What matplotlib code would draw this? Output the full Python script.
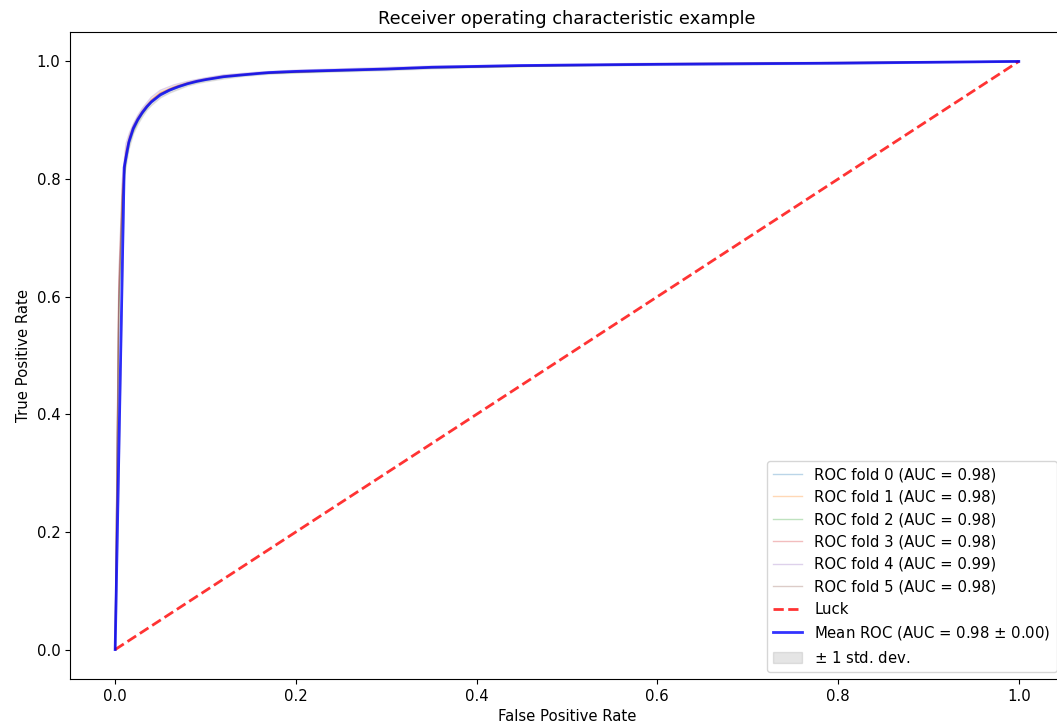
"""
ROC curves for 6 cross-validation folds with the mean curve and luck line.
"""

import matplotlib
matplotlib.use("Agg")
import matplotlib.pyplot as plt
import numpy as np

plt.rcParams["font.size"] = 10.7

# Per-fold ROC curves
fold_fpr = [0.0, 0.004, 0.008, 0.012, 0.016, 0.02, 0.025, 0.03, 0.04, 0.05,
            0.065, 0.08, 0.10, 0.12, 0.16, 0.2, 0.35, 0.6, 1.0]
fold_tpr = [
    [0.0, 0.58, 0.77, 0.84, 0.868, 0.884, 0.900, 0.912, 0.932, 0.945, 0.955,
     0.962, 0.969, 0.974, 0.980, 0.983, 0.990, 0.996, 1.0],
    [0.0, 0.62, 0.79, 0.85, 0.874, 0.889, 0.904, 0.916, 0.935, 0.948, 0.957,
     0.964, 0.970, 0.975, 0.980, 0.982, 0.989, 0.995, 1.0],
    [0.0, 0.57, 0.76, 0.83, 0.862, 0.880, 0.897, 0.910, 0.930, 0.943, 0.953,
     0.961, 0.968, 0.973, 0.979, 0.981, 0.989, 0.995, 1.0],
    [0.0, 0.60, 0.78, 0.845, 0.870, 0.886, 0.902, 0.914, 0.934, 0.946, 0.956,
     0.963, 0.969, 0.974, 0.980, 0.982, 0.990, 0.996, 1.0],
    [0.0, 0.63, 0.80, 0.86, 0.879, 0.893, 0.908, 0.920, 0.939, 0.951, 0.960,
     0.966, 0.972, 0.977, 0.982, 0.985, 0.992, 0.997, 1.0],
    [0.0, 0.59, 0.77, 0.84, 0.866, 0.883, 0.899, 0.911, 0.931, 0.945, 0.955,
     0.962, 0.969, 0.974, 0.980, 0.982, 0.990, 0.996, 1.0],
]
fold_auc = [0.98, 0.98, 0.98, 0.98, 0.99, 0.98]

# Mean ROC curve and its standard deviation
mean_fpr = [0.0, 0.01, 0.015, 0.02, 0.025, 0.03, 0.035, 0.04, 0.05, 0.06,
            0.07, 0.08, 0.09, 0.10, 0.12, 0.14, 0.17, 0.2, 0.25, 0.3, 0.35,
            0.45, 0.6, 0.8, 1.0]
mean_tpr = [0.0, 0.82, 0.862, 0.886, 0.901, 0.913, 0.923, 0.931, 0.943, 0.951,
            0.957, 0.962, 0.966, 0.969, 0.974, 0.977, 0.981, 0.983, 0.985,
            0.987, 0.990, 0.993, 0.995, 0.997, 1.0]
std_tpr = [0.0, 0.012, 0.010, 0.008, 0.007, 0.006, 0.005, 0.005, 0.004, 0.004,
           0.004, 0.003, 0.003, 0.003, 0.003, 0.002, 0.002, 0.002, 0.002,
           0.002, 0.002, 0.001, 0.001, 0.001, 0.0]
mean_auc = 0.98
std_auc = 0.00

fig = plt.figure(figsize=(10.57, 7.24), dpi=100)
ax = fig.add_axes([0.0662, 0.0622, 0.9404, 0.8936])

# Individual folds
for i, tpr in enumerate(fold_tpr):
    ax.plot(fold_fpr, tpr, lw=1, alpha=0.3,
            label="ROC fold %d (AUC = %0.2f)" % (i, fold_auc[i]))

# Chance line
ax.plot([0, 1], [0, 1], linestyle="--", lw=2, color="r", label="Luck", alpha=0.8)

# Mean curve
ax.plot(mean_fpr, mean_tpr, color="b", lw=2, alpha=0.8,
        label=r"Mean ROC (AUC = %0.2f $\pm$ %0.2f)" % (mean_auc, std_auc))

# Std band
upper = np.minimum(np.array(mean_tpr) + np.array(std_tpr), 1)
lower = np.maximum(np.array(mean_tpr) - np.array(std_tpr), 0)
ax.fill_between(mean_fpr, lower, upper, color="grey", alpha=0.2,
                label=r"$\pm$ 1 std. dev.")

ax.set_xlim([-0.05, 1.05])
ax.set_ylim([-0.05, 1.05])
ax.set_xlabel("False Positive Rate")
ax.set_ylabel("True Positive Rate")
ax.set_title("Receiver operating characteristic example", fontsize=12.8)
ax.legend(loc="lower right")

fig.savefig("out.png", dpi=100)
